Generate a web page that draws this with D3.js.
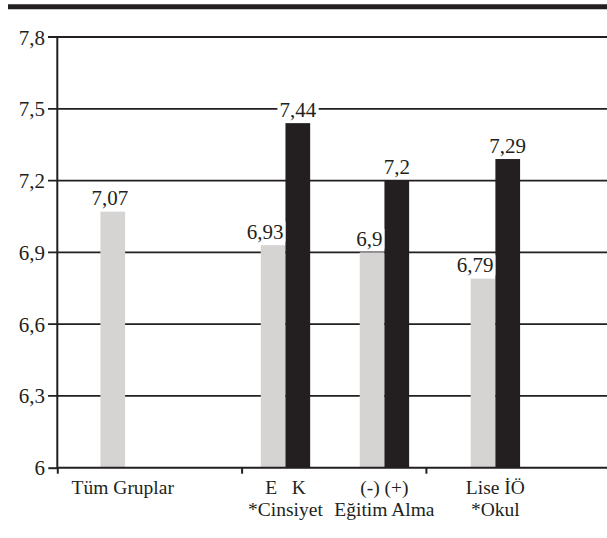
<!DOCTYPE html>
<html>
<head>
<meta charset="utf-8">
<script src="https://cdn.jsdelivr.net/npm/d3@7"></script>
<style>
  body { margin: 0; background: #fff; }
  text { font-family: "Liberation Serif", "Times New Roman", serif; font-size: 21px; fill: #231f20; }
  text.cat { font-size: 19.5px; }
</style>
</head>
<body>
<script>
// data
const groups = ["Tüm Gruplar", "*Cinsiyet", "Eğitim Alma", "*Okul"];
const topLabels = ["Tüm Gruplar", "E   K", "(-) (+)", "Lise İÖ"];
const bottomLabels = ["", "*Cinsiyet", "Eğitim Alma", "*Okul"];
const lightValues = [7.07, 6.93, 6.9, 6.79];
const darkValues = [null, 7.44, 7.2, 7.29];
const yTicks = [6, 6.3, 6.6, 6.9, 7.2, 7.5, 7.8];

// layout (category-axis units, ticks at 0,1,2,3)
const groupPos = [0.301, 1.238, 1.775, 2.377];
const barW = 0.134;

let w = 607, h = 538;
let ink = "#231f20", grey = "#d5d4d3";
let fmt = v => String(v).replace(".", ",");

let svg = d3.select("body").append("svg")
    .attr("width", w)
    .attr("height", h);

let x = d3.scaleLinear().domain([0, 3]).range([57.3, 610.2]);
let y = d3.scaleLinear().domain([6, 7.8]).range([467.7, 37]);

// thick rule at the top
svg.append("line")
    .attr("x1", 8).attr("x2", w)
    .attr("y1", 6.8).attr("y2", 6.8)
    .attr("stroke", ink).attr("stroke-width", 5);

// grid + y ticks
svg.selectAll(".grid")
    .data(yTicks.slice(1))
    .enter().append("line")
    .attr("x1", 48).attr("x2", w)
    .attr("y1", d => y(d)).attr("y2", d => y(d))
    .attr("stroke", ink).attr("stroke-width", 1.8);

svg.selectAll(".ylab")
    .data(yTicks)
    .enter().append("text")
    .attr("x", 45)
    .attr("y", d => y(d) + 7.5)
    .attr("text-anchor", "end")
    .text(d => fmt(d));

// bars
let bars = [];
groups.forEach((g, i) => {
    if (darkValues[i] == null) {
        bars.push({ v: lightValues[i], x0: groupPos[i] - barW / 2, c: grey, light: true, single: true });
    } else {
        bars.push({ v: lightValues[i], x0: groupPos[i] - barW, c: grey, light: true });
        bars.push({ v: darkValues[i], x0: groupPos[i], c: ink, light: false });
    }
});

svg.selectAll(".bar")
    .data(bars)
    .enter().append("rect")
    .attr("x", d => x(d.x0))
    .attr("y", d => y(d.v))
    .attr("width", x(barW) - x(0))
    .attr("height", d => y(6) - y(d.v))
    .attr("fill", d => d.c);

// axes lines
let yAxis = svg.append("g").attr("transform", `translate(${x(0)},0)`)
    .call(d3.axisLeft(y).tickValues([6]).tickSize(9).tickFormat(""));
yAxis.select(".domain").attr("d", `M0,${y(7.8)}V${y(6)}`);

let xAxis = svg.append("g").attr("transform", `translate(0,${y(6)})`)
    .call(d3.axisBottom(x).tickValues([0, 1, 2, 3]).tickSize(6).tickFormat(""));
xAxis.select(".domain").attr("d", `M${x(0)},0H${w}`);
svg.selectAll(".domain, .tick line")
    .attr("stroke", ink).attr("stroke-width", 2);

// value labels with white box behind them
let labels = svg.selectAll(".val")
    .data(bars)
    .enter().append("g");
labels.append("text")
    .attr("x", d => d.single ? x(d.x0 + barW / 2) - 3
                   : d.light ? x(d.x0 + barW) - 2 : x(d.x0 + barW / 2))
    .attr("y", d => y(d.v) - 6.5)
    .attr("text-anchor", d => d.light && !d.single ? "end" : "middle")
    .text(d => fmt(d.v));
labels.each(function () {
    let g = d3.select(this);
    let b = g.select("text").node().getBBox();
    g.insert("rect", "text")
        .attr("x", b.x - 2).attr("y", b.y + 2)
        .attr("width", b.width + 4).attr("height", b.height - 4)
        .attr("fill", "#fff");
});

// category labels, two lines each
let cats = svg.selectAll(".cat")
    .data(groups)
    .enter().append("text")
    .attr("class", "cat")
    .attr("text-anchor", "middle")
    .style("white-space", "pre");
cats.append("tspan")
    .attr("x", (d, i) => x(groupPos[i]) + (i === 0 ? 10 : 0))
    .attr("y", 494)
    .text((d, i) => topLabels[i]);
cats.filter((d, i) => bottomLabels[i] !== "")
    .append("tspan")
    .attr("x", d => x(groupPos[groups.indexOf(d)]))
    .attr("y", 516)
    .text(d => bottomLabels[groups.indexOf(d)]);
</script>
</body>
</html>
